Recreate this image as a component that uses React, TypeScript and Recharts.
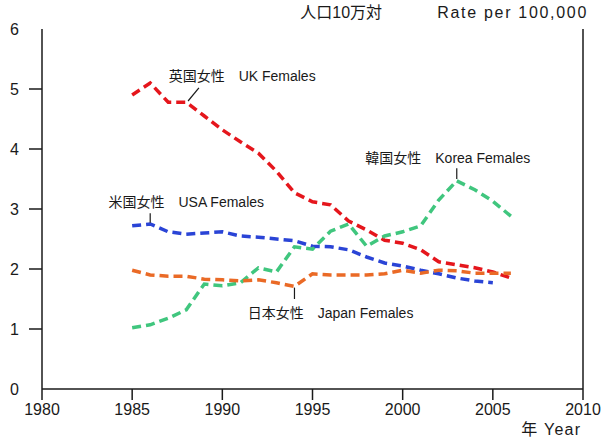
import { LineChart, Line, XAxis, YAxis, ReferenceLine, ReferenceDot } from "recharts";

// Female rate per 100,000, 1985-2006
const years = [
  1985, 1986, 1987, 1988, 1989, 1990, 1991, 1992, 1993, 1994, 1995,
  1996, 1997, 1998, 1999, 2000, 2001, 2002, 2003, 2004, 2005, 2006,
];
const ukFemales = [
  4.9, 5.1, 4.78, 4.78, 4.55, 4.32, 4.12, 3.93, 3.63, 3.27, 3.12,
  3.07, 2.8, 2.65, 2.48, 2.43, 2.32, 2.12, 2.07, 2.02, 1.95, 1.85,
];
const usaFemales = [
  2.72, 2.75, 2.62, 2.58, 2.6, 2.62, 2.55, 2.53, 2.5, 2.47, 2.38,
  2.37, 2.32, 2.2, 2.1, 2.05, 1.98, 1.92, 1.85, 1.8, 1.77, null,
];
const koreaFemales = [
  1.02, 1.07, 1.18, 1.32, 1.75, 1.72, 1.77, 2.02, 1.95, 2.37, 2.33,
  2.63, 2.75, 2.38, 2.55, 2.62, 2.72, 3.15, 3.47, 3.32, 3.13, 2.88,
];
const japanFemales = [
  1.98, 1.9, 1.88, 1.88, 1.83, 1.82, 1.8, 1.82, 1.77, 1.71, 1.92,
  1.9, 1.9, 1.9, 1.92, 1.98, 1.93, 1.98, 1.97, 1.93, 1.93, 1.93,
];

const xTicks = [1980, 1985, 1990, 1995, 2000, 2005, 2010];
const yTicks = [0, 1, 2, 3, 4, 5, 6];

const data = years.map((year, i) => ({
  year,
  uk: ukFemales[i],
  usa: usaFemales[i],
  korea: koreaFemales[i],
  japan: japanFemales[i],
}));

const series = [
  { key: "uk", color: "#e5161c" },
  { key: "usa", color: "#2a44d6" },
  { key: "korea", color: "#40c67e" },
  { key: "japan", color: "#ea6a26" },
];

// callout text centre and its pointer, in axis units
const callouts = [
  { text: "英国女性　UK Females", tx: 1991.1, ty: 5.22, from: [1988.1, 4.8], to: [1988.7, 5.02] },
  { text: "米国女性　USA Females", tx: 1988.0, ty: 3.12, from: [1986, 2.77], to: [1986, 2.93] },
  { text: "韓国女性　Korea Females", tx: 2002.5, ty: 3.85, from: [2003, 3.5], to: [2003, 3.68] },
  { text: "日本女性　Japan Females", tx: 1996.0, ty: 1.27, from: [1994, 1.69], to: [1994, 1.5] },
];

const FONT = '"Liberation Sans", Arial, "Noto Sans CJK JP", sans-serif';
const INK = "#1a1a1a";

function YTick({ x, y, payload }: any) {
  const v = payload.value;
  return (
    <g>
      {v > 0 && v < 6 && (
        <line x1={x + 10} x2={x + 23} y1={y} y2={y} stroke={INK} strokeWidth={1.5} />
      )}
      <text x={x} y={y} dy="0.35em" textAnchor="end" fontSize={16} fontFamily={FONT} fill={INK}>
        {v}
      </text>
    </g>
  );
}

// plain text placed at an axis-unit point, right-aligned
function TextAt({ x, y, value, spacing = 0 }: { x: number; y: number; value: string; spacing?: number }) {
  return (
    <ReferenceDot
      key={value}
      x={x}
      y={y}
      r={0}
      stroke="none"
      fill="none"
      ifOverflow="visible"
      label={{
        value,
        position: "left",
        offset: 0,
        fontSize: 16,
        fontFamily: FONT,
        fill: INK,
        letterSpacing: spacing,
      }}
    />
  );
}

export default function App() {
  return (
    <div style={{ position: "absolute", left: 0, top: 0, width: 605, height: 438, background: "#fff" }}>
      <LineChart width={605} height={438} data={data} margin={{ top: 29, right: 22, bottom: 0, left: 0 }}>
        <XAxis
          dataKey="year"
          type="number"
          domain={[1980, 2010]}
          ticks={xTicks}
          interval={0}
          height={49}
          tickSize={11}
          tickMargin={4}
          stroke={INK}
          strokeWidth={1.5}
          tick={{ fontSize: 16, fontFamily: FONT, fill: INK }}
        />
        <YAxis
          type="number"
          domain={[0, 6]}
          ticks={yTicks}
          interval={0}
          width={42}
          tickSize={13}
          tickMargin={10}
          tickLine={false}
          stroke={INK}
          strokeWidth={1.5}
          tick={<YTick />}
        />
        <ReferenceLine x={2010} stroke={INK} strokeWidth={1.5} />
        {series.map((s) => (
          <Line
            key={s.key}
            type="linear"
            dataKey={s.key}
            stroke={s.color}
            strokeWidth={3.5}
            strokeDasharray="9 5"
            dot={false}
            activeDot={false}
            isAnimationActive={false}
          />
        ))}
        {callouts.map((c) => (
          <ReferenceLine
            key={c.text + "-ptr"}
            segment={[
              { x: c.from[0], y: c.from[1] },
              { x: c.to[0], y: c.to[1] },
            ]}
            stroke={INK}
            strokeWidth={1.2}
            ifOverflow="visible"
          />
        ))}
        {callouts.map((c) => (
          <ReferenceDot
            key={c.text}
            x={c.tx}
            y={c.ty}
            r={0}
            stroke="none"
            fill="none"
            ifOverflow="visible"
            label={{ value: c.text, position: "center", fontSize: 14, fontFamily: FONT, fill: INK }}
          />
        ))}
        {TextAt({ x: 1998.86, y: 6.27, value: "人口10万対" })}
        {TextAt({ x: 2010.28, y: 6.27, value: "Rate per 100,000", spacing: 1.7 })}
        {TextAt({ x: 2009.9, y: -0.68, value: "年  Year", spacing: 1.2 })}
      </LineChart>
    </div>
  );
}
